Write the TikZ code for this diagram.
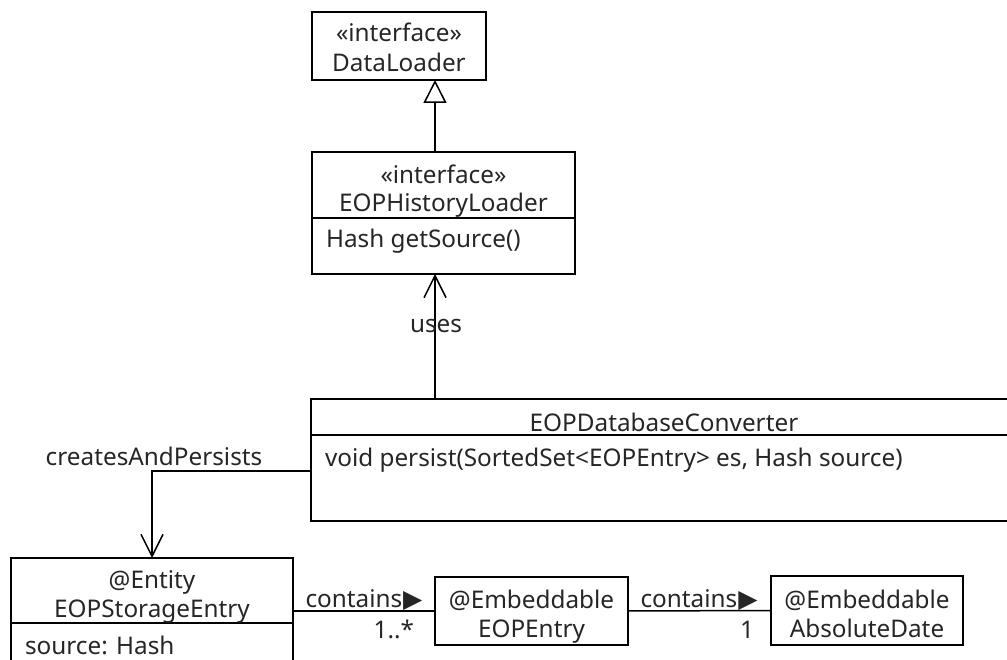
\documentclass[tikz,border=0pt]{standalone}
\usepackage{fontspec}
\setmainfont{Noto Sans}
\newfontfamily\symfont{DejaVu Sans}
\usetikzlibrary{arrows.meta,calc}
\newcommand{\dirtri}{{\symfont\fontsize{25}{25}\selectfont\kern1pt ▶}}
\begin{document}
\begin{tikzpicture}[x=1pt,y=-1pt,
  every node/.style={font=\fontsize{24.3}{29}\selectfont, text=black!85, inner sep=0pt, outer sep=0pt},
  umlbox/.style={draw, line width=1.5pt, anchor=north west, rectangle},
  conn/.style={line width=1.5pt},
  realize/.style={conn, -{Triangle[open, length=23pt, width=23pt, line width=1.5pt, fill=white]}},
  assoc/.style={conn, -{Straight Barb[length=22pt, width=22pt, line width=1.5pt]}},
  lbl/.style={anchor=base},
  lbll/.style={anchor=base west},
  lblr/.style={anchor=base east}]
  \useasboundingbox (0,0) rectangle (1007,660);
  \clip (0,0) rectangle (1007,660);
  \fill[white] (0,0) rectangle (1007,660);

  % class boxes
  \node[umlbox, minimum width=174pt, minimum height=68pt] (dl) at (312,12) {};
  \node[umlbox, minimum width=263pt, minimum height=122pt] (hl) at (312,152) {};
  \node[umlbox, minimum width=706pt, minimum height=122pt] (conv) at (311,399) {};
  \node[umlbox, minimum width=282pt, minimum height=140pt] (se) at (11,558) {};
  \node[umlbox, minimum width=193pt, minimum height=68pt] (ee) at (435,577) {};
  \node[umlbox, minimum width=192pt, minimum height=69pt] (ad) at (771,576) {};

  % compartment separators
  \draw[conn] (hl.west |- 0,218) -- (hl.east |- 0,218);
  \draw[conn] (conv.west |- 0,435) -- (conv.east |- 0,435);
  \draw[conn] (se.west |- 0,623) -- (se.east |- 0,623);

  % DataLoader
  \node[lbl] (dl1) at (399,42) {«interface»};
  \node[lbl] (dl2) at (399,72) {DataLoader};
  % EOPHistoryLoader
  \node[lbl] (hl1) at (443.5,184) {«interface»};
  \node[lbl] (hl2) at (443.5,212) {EOPHistoryLoader};
  \node[lbll] (hl3) at (326,248) {Hash getSource()};
  % EOPDatabaseConverter
  \node[lbl] (cv1) at (664,431) {EOPDatabaseConverter};
  \node[lbll] (cv2) at (325,466) {void persist(SortedSet<EOPEntry> es, Hash source)};
  % EOPStorageEntry
  \node[lbl] (se1) at (152,588) {@Entity};
  \node[lbl] (se2) at (152,617) {EOPStorageEntry};
  \node[lbll] (se3) at (25,654) {source: Hash};
  % EOPEntry
  \node[lbl] (ee1) at (531.5,608) {@Embeddable};
  \node[lbl] (ee2) at (531.5,637) {EOPEntry};
  % AbsoluteDate
  \node[lbl] (ad1) at (867,608) {@Embeddable};
  \node[lbl] (ad2) at (867,637) {AbsoluteDate};

  % connectors
  \coordinate (axis) at (435,0);
  \draw[realize] (axis |- hl.north) -- (axis |- dl.south);
  \draw[assoc] (axis |- conv.north) -- (axis |- hl.south);
  \node[lbl] (uses) at (436,333) {uses};

  \draw[assoc] ([yshift=-11pt]conv.west) -| (se.north);
  \node[lbl] (cap) at (154,465) {createsAndPersists};

  \draw[conn] (ee.west -| se.east) -- (ee.west);
  \node[lbl] (c1) at (364,607) {contains\dirtri};
  \node[lblr] (m1) at (414,638) {1..*};

  \draw[conn] (ee.east) -- (ad.west);
  \node[lbl] (c2) at (699,607) {contains\dirtri};
  \node[lblr] (m2) at (754,638) {1};
\end{tikzpicture}
\end{document}
